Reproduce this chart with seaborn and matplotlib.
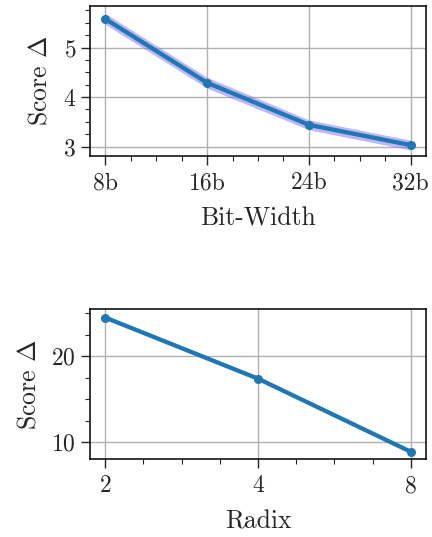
import numpy as np
import pandas as pd
import matplotlib
matplotlib.use("Agg")
import matplotlib.pyplot as plt
import seaborn as sns
from matplotlib.ticker import AutoMinorLocator, MultipleLocator

# values
bit_widths = [8, 16, 24, 32]
bit_labels = ["8b", "16b", "24b", "32b"]
bit_scores = [5.58, 4.29, 3.44, 3.03]
bit_spread = [0.11, 0.11, 0.1, 0.1]

radix = [2, 4, 8]
radix_labels = ["2", "4", "8"]
radix_scores = [24.5, 17.4, 8.9]

sns.set_style("ticks")
plt.rcParams.update({
    "font.family": "serif",
    "font.serif": ["cmr10", "DejaVu Serif"],
    "mathtext.fontset": "cm",
    "axes.formatter.use_mathtext": True,
    "axes.unicode_minus": False,
    "xtick.labelsize": 17,
    "ytick.labelsize": 17,
    "axes.labelsize": 18.5,
    "axes.linewidth": 1.1,
    "xtick.major.size": 6.5,
    "ytick.major.size": 6.5,
    "xtick.minor.size": 3.5,
    "ytick.minor.size": 3.5,
    "xtick.major.width": 1.0,
    "ytick.major.width": 1.0,
    "xtick.minor.width": 0.8,
    "ytick.minor.width": 0.8,
    "xtick.major.pad": 5,
})

bit_df = pd.DataFrame({"bits": bit_widths, "score": bit_scores})
radix_df = pd.DataFrame({"pos": np.log2(radix), "score": radix_scores})

fig = plt.figure(figsize=(4.32, 5.37), dpi=100)
ax1 = fig.add_axes([0.2083, 0.7095, 0.7777, 0.2793])
ax2 = fig.add_axes([0.2083, 0.1447, 0.7777, 0.2799])

# top: bit-width
lo = np.array(bit_scores) - np.array(bit_spread)
hi = np.array(bit_scores) + np.array(bit_spread)
ax1.fill_between(bit_widths, lo, hi, color="#8a7cf2", alpha=0.55, lw=0)
sns.lineplot(data=bit_df, x="bits", y="score", ax=ax1, color="#1f77b4",
             lw=3.1, marker="o", markersize=6.5, markeredgewidth=0)
ax1.set_xticks(bit_widths)
ax1.set_xticklabels(bit_labels)
ax1.set_yticks([3, 4, 5])
ax1.yaxis.set_minor_locator(MultipleLocator(0.25))
ax1.xaxis.set_minor_locator(AutoMinorLocator(4))
ax1.set_ylim(2.81, 5.84)
ax1.set_xlabel("Bit-Width", labelpad=9)
ax1.set_ylabel(r"Score $\Delta$", labelpad=8)

# bottom: radix
sns.lineplot(data=radix_df, x="pos", y="score", ax=ax2, color="#1f77b4",
             lw=3.1, marker="o", markersize=6.5, markeredgewidth=0)
ax2.set_xticks(np.log2(radix))
ax2.set_xticklabels(radix_labels)
ax2.set_yticks([10, 20])
ax2.yaxis.set_minor_locator(MultipleLocator(2.5))
ax2.xaxis.set_minor_locator(AutoMinorLocator(4))
ax2.set_ylim(8.02, 25.5)
ax2.set_xlabel("Radix", labelpad=9)
ax2.set_ylabel(r"Score $\Delta$", labelpad=8)

for ax in (ax1, ax2):
    ax.grid(True, which="major", color="#b0b0b0", lw=1.0)
    ax.set_axisbelow(True)
    for s in ax.spines.values():
        s.set_color("black")

fig.savefig("out.png", dpi=100)
